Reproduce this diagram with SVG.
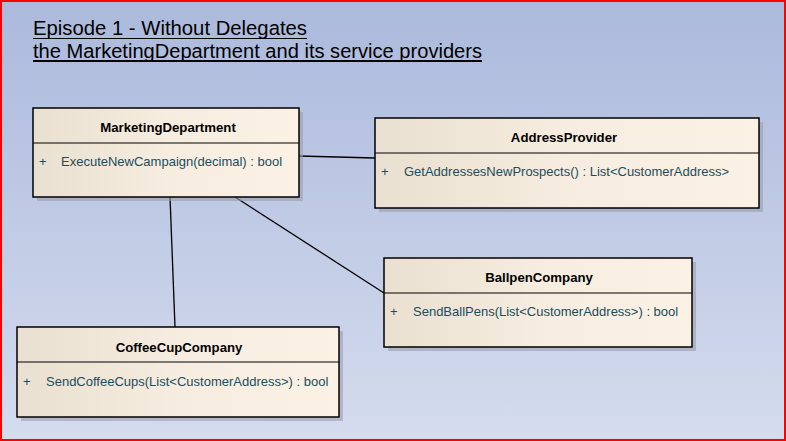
<svg xmlns="http://www.w3.org/2000/svg" width="786" height="441" viewBox="0 0 786 441">
<defs>
<linearGradient id="bg" x1="0" y1="0" x2="0" y2="1">
<stop offset="0" stop-color="#abb9dc"/>
<stop offset="1" stop-color="#d5dcee"/>
</linearGradient>
<linearGradient id="box" x1="0" y1="0" x2="1" y2="0">
<stop offset="0" stop-color="#e9e0d1"/>
<stop offset="0.5" stop-color="#f6ecdf"/>
<stop offset="1" stop-color="#fbf1e4"/>
</linearGradient>
<style>
.shadow{fill:#9a9fae;opacity:0.6}
.box{fill:url(#box);stroke:#000;stroke-width:1.5}
.sep{stroke:#000;stroke-width:1}
.name{font-family:"Liberation Sans",Arial,sans-serif;font-weight:bold;font-size:13.2px;fill:#000;text-anchor:middle}
.op{font-family:"Liberation Sans",Arial,sans-serif;font-size:13px;fill:#1c4d5c}
.conn{stroke:#000;stroke-width:1.3;fill:none}
.title{font-family:"Liberation Sans",Arial,sans-serif;font-size:20px;fill:#000}
</style>
</defs>
<rect x="0" y="0" width="786" height="441" fill="url(#bg)"/>
<rect x="1" y="1" width="784" height="439" fill="none" stroke="#ff0000" stroke-width="2"/>
<g id="title">
<text class="title" x="33" y="35" textLength="274" lengthAdjust="spacingAndGlyphs">Episode 1 - Without Delegates</text>
<line x1="33" y1="38.5" x2="307" y2="38.5" stroke="#000" stroke-width="1"/>
<text class="title" x="33" y="58" textLength="449" lengthAdjust="spacingAndGlyphs">the MarketingDepartment and its service providers</text>
<line x1="33" y1="61" x2="482" y2="61" stroke="#000" stroke-width="2"/>
</g>
<g id="connectors">
<line class="conn" x1="299" y1="156" x2="375" y2="158"/>
<line class="conn" x1="170" y1="197" x2="175" y2="327"/>
<line class="conn" x1="235" y1="197" x2="384" y2="293"/>
</g>
<g id="MarketingDepartment">
<rect class="shadow" x="37" y="112" width="266" height="89"/>
<rect class="box" x="33" y="108" width="266" height="89"/>
<line class="sep" x1="33" y1="143" x2="299" y2="143"/>
<text class="name" x="168" y="132">MarketingDepartment</text>
<text class="op" x="39" y="166">+</text>
<text class="op" x="61" y="166">ExecuteNewCampaign(decimal) : bool</text>
</g>
<g id="AddressProvider">
<rect class="shadow" x="379" y="122" width="384" height="90"/>
<rect class="box" x="375" y="118" width="384" height="90"/>
<line class="sep" x1="375" y1="153" x2="759" y2="153"/>
<text class="name" x="564" y="142">AddressProvider</text>
<text class="op" x="381" y="176">+</text>
<text class="op" x="404" y="176">GetAddressesNewProspects() : List&lt;CustomerAddress&gt;</text>
</g>
<g id="BallpenCompany">
<rect class="shadow" x="388" y="262" width="308" height="89"/>
<rect class="box" x="384" y="258" width="308" height="89"/>
<line class="sep" x1="384" y1="293" x2="692" y2="293"/>
<text class="name" x="539" y="282">BallpenCompany</text>
<text class="op" x="390" y="316">+</text>
<text class="op" x="413" y="316">SendBallPens(List&lt;CustomerAddress&gt;) : bool</text>
</g>
<g id="CoffeeCupCompany">
<rect class="shadow" x="21" y="331" width="322" height="90"/>
<rect class="box" x="17" y="327" width="322" height="90"/>
<line class="sep" x1="17" y1="362" x2="339" y2="362"/>
<text class="name" x="179" y="352">CoffeeCupCompany</text>
<text class="op" x="23" y="386">+</text>
<text class="op" x="46" y="386">SendCoffeeCups(List&lt;CustomerAddress&gt;) : bool</text>
</g>
</svg>
